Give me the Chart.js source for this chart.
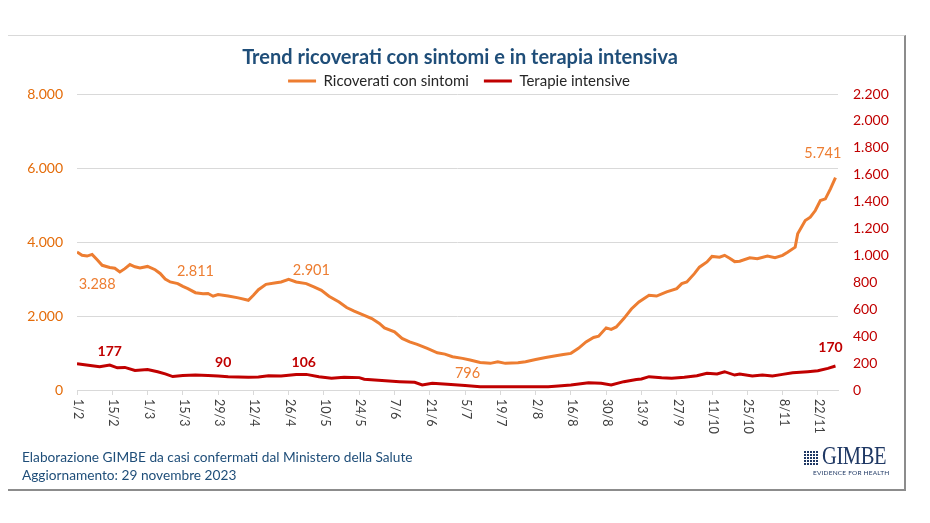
<!DOCTYPE html>
<html lang="it">

<head>
  <meta charset="UTF-8">
  <title>Trend ricoverati con sintomi e in terapia intensiva</title>
  <style>
    body {
      margin: 0;
      background: #fff;
      font-family: Lato, sans-serif;
    }

    .slide {
      position: relative;
      width: 930px;
      height: 523px;
      overflow: hidden;
    }

    .frame {
      position: absolute;
      left: 8px;
      top: 35px;
      width: 898px;
      height: 456px;
      box-sizing: border-box;
      border-top: 1px solid #d9d9d9;
      border-right: 2px solid #8c8c8c;
      border-bottom: 2px solid #8c8c8c;
    }

    .chart-box {
      position: absolute;
      left: 0;
      top: 0;
      width: 930px;
      height: 523px;
    }

    .source {
      position: absolute;
      left: 22px;
      top: 448px;
      font-size: 13.7px;
      line-height: 18px;
      color: #1f4e79;
    }

    .logo {
      position: absolute;
      left: 803px;
      top: 446px;
      width: 100px;
      white-space: nowrap;
      color: #1f3864;
    }

    .logo .mark {
      display: inline-block;
      width: 15px;
      height: 15px;
      margin-right: 4px;
      vertical-align: -1px;
      background:
        linear-gradient(90deg, #fff 1px, transparent 1px) 0 0 / 3px 3px,
        linear-gradient(#fff 1px, #1f3864 1px) 0 0 / 3px 3px;
    }

    .logo .name {
      display: inline-block;
      font-family: "Liberation Serif", serif;
      font-size: 25px;
      line-height: 20px;
      transform: scaleX(0.82);
      transform-origin: left;
      letter-spacing: -0.5px;
    }

    .logo .tag {
      font-size: 6.5px;
      letter-spacing: 0.2px;
      margin-left: 10px;
      margin-top: 2px;
    }
  </style>
</head>

<body>
  <div class="slide">
    <div class="frame"></div>
    <div class="chart-box">
      <canvas id="trendChart"></canvas>
    </div>
    <div class="source">
      Elaborazione GIMBE da casi confermati dal Ministero della Salute<br>
      Aggiornamento: 29 novembre 2023
    </div>
    <div class="logo">
      <span class="mark"></span><span class="name">GIMBE</span>
      <div class="tag">EVIDENCE FOR HEALTH</div>
    </div>
  </div>

  <script src="https://cdn.jsdelivr.net/npm/chart.js"></script>
  <script>
    // tick labels, one every 14 days starting 1 Feb 2023
    const tickLabels = ['1/2', '15/2', '1/3', '15/3', '29/3', '12/4', '26/4', '10/5', '24/5', '7/6', '21/6',
      '5/7', '19/7', '2/8', '16/8', '30/8', '13/9', '27/9', '11/10', '25/10', '8/11', '22/11'];

    // Ricoverati con sintomi (days counted from 1/2)
    const ricDays = [0, 2, 4, 6, 8, 10, 13, 15, 17, 19, 21, 23, 25, 28, 31, 33, 35, 37, 40, 42, 44, 47, 50, 52,
      54, 56, 60, 64, 68, 70, 72, 75, 79, 81, 84, 87, 91, 94, 97, 100, 104, 107, 110, 114, 117, 120, 122, 126,
      129, 132, 135, 139, 143, 146, 149, 153, 156, 160, 164, 167, 170, 175, 178, 182, 186, 190, 193, 196, 199,
      202, 205, 207, 210, 212, 214, 217, 220, 223, 227, 230, 234, 238, 240, 242, 245, 247, 250, 252, 255, 257,
      259, 261, 263, 267, 270, 274, 277, 280, 282, 285, 286, 289, 291, 293, 295, 297, 299, 301];
    const ricValues = [3730, 3640, 3620, 3665, 3520, 3370, 3310, 3290, 3190, 3280, 3390, 3330, 3300, 3340, 3250,
      3150, 3000, 2920, 2875, 2800, 2740, 2630, 2600, 2610, 2535, 2580, 2540, 2490, 2425, 2560, 2710, 2855, 2900,
      2920, 2990, 2920, 2875, 2785, 2695, 2535, 2380, 2230, 2130, 2020, 1930, 1800, 1680, 1570, 1395, 1300, 1235,
      1125, 1005, 970, 900, 855, 810, 745, 720, 760, 720, 735, 765, 825, 880, 925, 960, 990, 1125, 1300, 1420,
      1455, 1680, 1640, 1705, 1930, 2190, 2380, 2560, 2540, 2650, 2740, 2875, 2920, 3145, 3320, 3460, 3610, 3590,
      3640, 3560, 3470, 3480, 3575, 3550, 3620, 3575, 3640, 3725, 3860, 4220, 4580, 4670, 4850, 5120, 5165, 5435,
      5741];

    // Terapie intensive
    const tiDays = [0, 3, 6, 9, 13, 16, 19, 23, 28, 32, 35, 38, 42, 47, 52, 56, 60, 68, 72, 76, 81, 87, 91, 96,
      101, 106, 112, 114, 121, 128, 134, 137, 141, 147, 154, 160, 166, 171, 179, 187, 191, 196, 203, 208, 212,
      217, 222, 224, 227, 232, 236, 241, 246, 250, 254, 257, 261, 263, 268, 272, 276, 280, 284, 290, 294, 298, 301];
    const tiValues = [195, 188, 180, 173, 185, 165, 168, 145, 153, 136, 120, 100, 108, 111, 108, 104, 99, 94, 96,
      106, 104, 116, 116, 99, 88, 94, 92, 80, 70, 62, 57, 38, 50, 42, 33, 25, 24, 24, 24, 24, 30, 37, 54, 50, 38,
      62, 78, 82, 99, 91, 87, 94, 106, 124, 119, 136, 111, 119, 104, 111, 104, 116, 128, 136, 143, 161, 178];

    // highlighted values
    const ricLabelDays = [8, 47, 93, 155, 296];
    const ricLabelValues = [3288, 2811, 2901, 796, 5741];
    const tiLabelDays = [13, 58, 90, 299];
    const tiLabelValues = [177, 90, 106, 170];
    // vertical shift of each highlighted label (px)
    const ricLabelShift = [16, -15, -12, 13, -24];
    const tiLabelShift = [-15, -15, -13, -20];

    const ORANGE = '#ED7D31';
    const RED = '#C00000';

    function fmt(v) {
      return String(v).replace(/\B(?=(\d{3})+(?!\d))/g, '.');
    }

    // x labels rotated clockwise, as in the original
    const rotatedTicks = {
      id: 'rotatedTicks',
      afterDraw(chart) {
        const x = chart.scales.x;
        const ctx = chart.ctx;
        ctx.save();
        ctx.font = '12.5px Lato';
        ctx.fillStyle = '#404040';
        ctx.textAlign = 'left';
        ctx.textBaseline = 'middle';
        x.ticks.forEach((t, i) => {
          ctx.save();
          ctx.translate(x.getPixelForValue(t.value) + 1, x.top + 9);
          ctx.rotate(Math.PI / 2);
          ctx.fillText(tickLabels[i], 0, 0);
          ctx.restore();
        });
        ctx.restore();
      }
    };

    const valueLabels = {
      id: 'valueLabels',
      afterDatasetsDraw(chart) {
        const { ctx, scales } = chart;
        ctx.save();
        ctx.textAlign = 'center';
        ctx.textBaseline = 'middle';
        ctx.font = '14.5px Lato';
        ctx.fillStyle = ORANGE;
        ricLabelDays.forEach((d, i) => {
          ctx.fillText(fmt(ricLabelValues[i]), scales.x.getPixelForValue(d),
            scales.y.getPixelForValue(ricLabelValues[i]) + ricLabelShift[i]);
        });
        ctx.font = 'bold 14px Lato';
        ctx.fillStyle = RED;
        tiLabelDays.forEach((d, i) => {
          ctx.fillText(fmt(tiLabelValues[i]), scales.x.getPixelForValue(d),
            scales.y1.getPixelForValue(tiLabelValues[i]) + tiLabelShift[i]);
        });
        ctx.restore();
      }
    };

    // place title and legend like the original slide
    const headerNudge = {
      id: 'headerNudge',
      afterLayout(chart) {
        const t = chart.titleBlock;
        t.top += 16; t.bottom += 16; t.left -= 5; t.right -= 5;
        const lg = chart.legend;
        lg.top += 4.5; lg.bottom += 4.5; lg.left -= 6; lg.right -= 6;
      }
    };

    const ctx = document.getElementById('trendChart').getContext('2d');
    new Chart(ctx, {
      type: 'line',
      data: {
        datasets: [{
          label: 'Ricoverati con sintomi',
          data: ricDays.map((d, i) => ({ x: d, y: ricValues[i] })),
          borderColor: ORANGE,
          backgroundColor: ORANGE,
          borderWidth: 3,
          pointRadius: 0,
          yAxisID: 'y'
        }, {
          label: 'Terapie intensive',
          data: tiDays.map((d, i) => ({ x: d, y: tiValues[i] })),
          borderColor: RED,
          backgroundColor: RED,
          borderWidth: 3,
          pointRadius: 0,
          yAxisID: 'y1'
        }]
      },
      options: {
        responsive: true,
        maintainAspectRatio: false,
        animation: false,
        layout: {
          padding: { top: 30, bottom: 128, left: 0, right: 0 }
        },
        plugins: {
          title: {
            display: true,
            text: 'Trend ricoverati con sintomi e in terapia intensiva',
            color: '#1F4E79',
            font: { family: 'Lato', size: 20, weight: 'bold' },
            padding: { top: 0, bottom: 0 }
          },
          legend: {
            display: true,
            labels: {
              color: '#262626',
              font: { family: 'Lato', size: 15 },
              usePointStyle: true,
              pointStyle: 'line',
              pointStyleWidth: 28,
              padding: 15
            }
          },
          tooltip: { enabled: false }
        },
        scales: {
          x: {
            type: 'linear',
            min: 0,
            max: 302,
            afterBuildTicks: (s) => {
              s.ticks = tickLabels.map((_, i) => ({ value: i * 14 }));
            },
            ticks: { display: false },
            grid: {
              drawOnChartArea: false,
              drawTicks: true,
              tickLength: 5,
              color: '#d9d9d9'
            },
            border: { color: '#d9d9d9' }
          },
          y: {
            position: 'left',
            min: 0,
            max: 8000,
            afterFit: (s) => { s.width = 77; },
            ticks: {
              stepSize: 2000,
              color: '#E46C0A',
              font: { family: 'Lato', size: 14 },
              padding: 14,
              callback: (v) => fmt(v)
            },
            grid: { color: '#d9d9d9', drawTicks: false },
            border: { display: false }
          },
          y1: {
            position: 'right',
            min: 0,
            max: 2200,
            afterFit: (s) => { s.width = 92; },
            ticks: {
              stepSize: 200,
              color: RED,
              font: { family: 'Lato', size: 14 },
              padding: 15,
              callback: (v) => fmt(v)
            },
            grid: { drawOnChartArea: false, drawTicks: false },
            border: { display: false }
          }
        }
      },
      plugins: [rotatedTicks, valueLabels, headerNudge]
    });
  </script>
</body>

</html>
